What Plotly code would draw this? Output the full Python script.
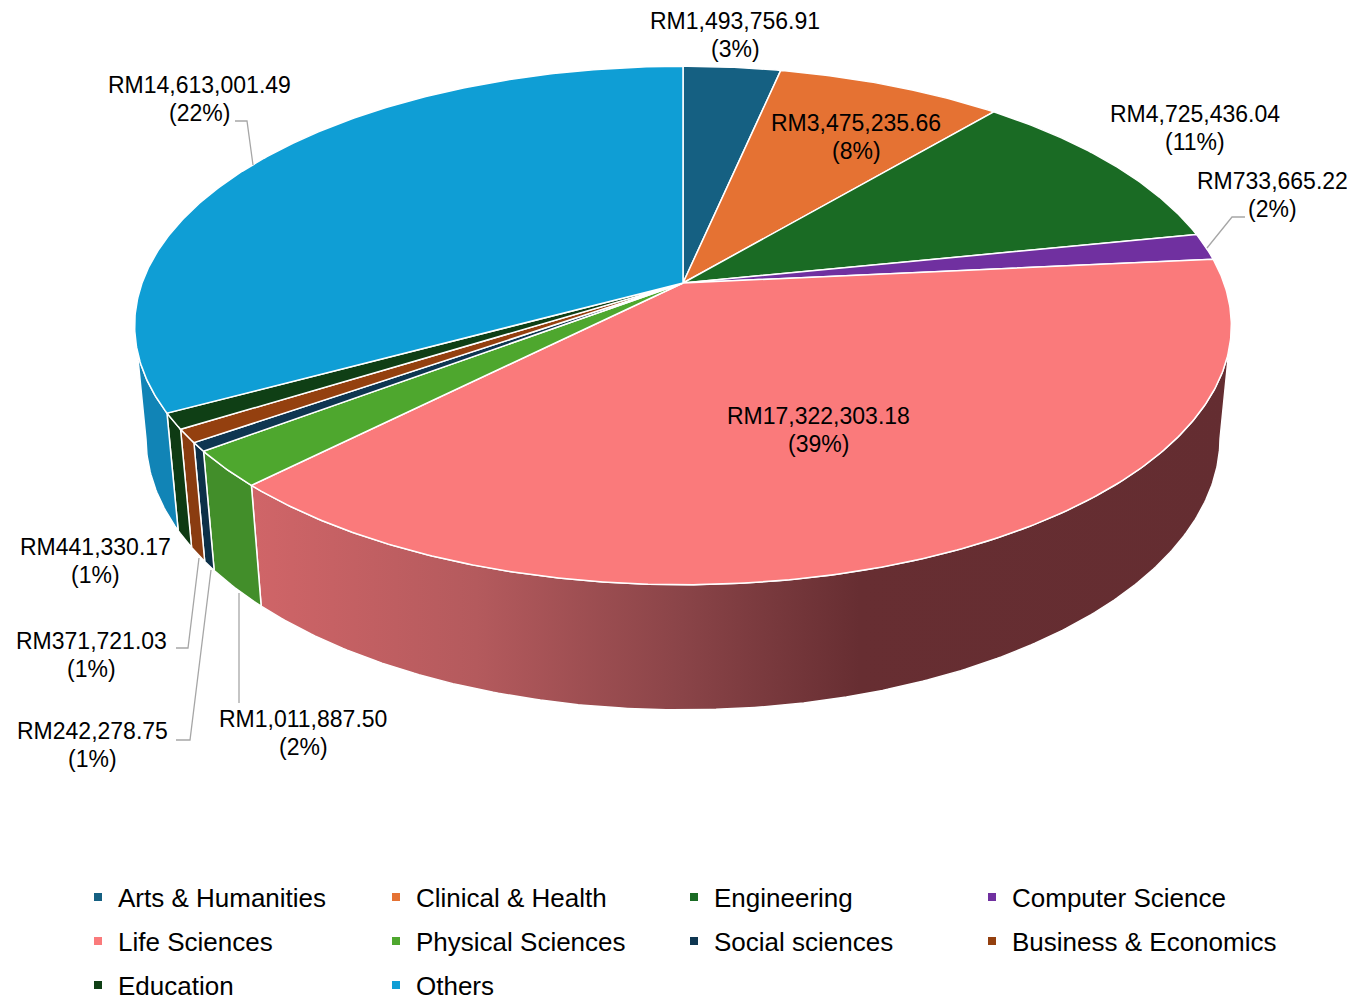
import numpy as np
import plotly.graph_objects as go

# ---------------- data ----------------
categories = ["Arts & Humanities", "Clinical & Health", "Engineering", "Computer Science",
              "Life Sciences", "Physical Sciences", "Social sciences", "Business & Economics",
              "Education", "Others"]
values = [1493756.91, 3475235.66, 4725436.04, 733665.22, 17322303.18,
          1011887.50, 242278.75, 371721.03, 441330.17, 14613001.49]
pct_labels = ["3%", "8%", "11%", "2%", "39%", "2%", "1%", "1%", "1%", "22%"]

# ---------------- styles ----------------
top_colors = ["#156082", "#E57233", "#1A6B24", "#7030A0", "#FA7A7B",
              "#4EA72E", "#0E3651", "#94400F", "#0F3F15", "#0F9ED5"]
side_colors = ["#12506D", "#C0602A", "#15591E", "#5E2886", "#B85A5C",
               "#428E2A", "#0C3048", "#8A3C10", "#0E3A13", "#1184B6"]
life_gradient = [[0, "#D06568"], [0.23, "#B45A5D"], [0.44, "#8A4448"],
                 [0.62, "#672E32"], [1, "#642D31"]]

# label layout (pixel positions of label centres) and leader lines
label_pos = [(735, 35), (856, 137), (1195, 128), (1272, 195), (818, 430),
             (303, 733), (92, 745), (91, 655), (95, 561), (199, 99)]
LINE_GAP = 28
leaders = {
    3: [(1245, 217), (1232, 217), (1207, 248)],
    5: [(239, 703), (239, 593)],
    6: [(176, 740), (190, 740), (211, 570)],
    7: [(176, 648), (188, 648), (199, 558)],
    9: [(235, 121), (247, 121), (253, 165)],
}
legend_cols = [78, 376, 674, 972]
legend_rows = [897, 941, 985]

W, H = 1355, 1001
OFF = 8  # default page body margin
FW, FH = W - OFF, H - OFF
FONT = "Liberation Sans, Arial, sans-serif"

# ---------------- 3D projection of a tilted disc ----------------
CX, CY = 683, 283
DIST = 5.4
PHI = np.radians(27.8)
FOC = 2921
THICK = 0.237


def proj(theta, w, r=1.0):
    X = r * np.sin(theta)
    V = r * np.cos(theta)
    Y = -THICK * w
    Z = -V
    depth = DIST - (Y * np.sin(PHI) + Z * np.cos(PHI))
    sx = FOC * X / depth
    sy = FOC * (Y * np.cos(PHI) - Z * np.sin(PHI)) / depth
    return CX + sx, CY - sy


vals = np.array(values, dtype=float)
frac = vals / vals.sum()
edges = np.concatenate([[0], np.cumsum(frac)]) * 2 * np.pi

th_sil = np.arccos(-np.cos(PHI) / DIST)
vis_a, vis_b = th_sil, 2 * np.pi - th_sil

fig = go.Figure()

# side walls
for i in range(len(values)):
    a, b = max(edges[i], vis_a), min(edges[i + 1], vis_b)
    if b <= a:
        continue
    n = max(4, int(np.degrees(b - a) * 2))
    th = np.linspace(a, b, n)
    xt, yt = proj(th, 0)
    xb, yb = proj(th[::-1], 1)
    xs = np.concatenate([xt, xb, xt[:1]])
    ys = np.concatenate([yt, yb, yt[:1]])
    kw = dict(fillcolor=side_colors[i])
    if categories[i] == "Life Sciences":
        kw = dict(fillgradient=dict(type="horizontal", colorscale=life_gradient))
    fig.add_trace(go.Scatter(x=xs, y=ys, mode="lines", fill="toself",
                             line=dict(color="white", width=1.5),
                             hoverinfo="skip", showlegend=False, **kw))

# top faces
for i in range(len(values)):
    a, b = edges[i], edges[i + 1]
    n = max(4, int(np.degrees(b - a) * 2))
    th = np.linspace(a, b, n)
    xt, yt = proj(th, 0)
    xs = np.concatenate([[CX], xt, [CX]])
    ys = np.concatenate([[CY], yt, [CY]])
    fig.add_trace(go.Scatter(x=xs, y=ys, mode="lines", fill="toself",
                             fillcolor=top_colors[i],
                             line=dict(color="white", width=1.5),
                             name=categories[i],
                             text=f"{categories[i]}: RM{values[i]:,.2f}",
                             hoverinfo="text", showlegend=False))

# leader lines
for i, pts in leaders.items():
    fig.add_trace(go.Scatter(x=[p[0] for p in pts], y=[p[1] for p in pts], mode="lines",
                             line=dict(color="#A6A6A6", width=1.3),
                             hoverinfo="skip", showlegend=False))

# data labels (value line + percentage line)
for i in range(len(values)):
    lx, ly = label_pos[i]
    for txt, dy in ((f"RM{values[i]:,.2f}", -LINE_GAP / 2), (f"({pct_labels[i]})", LINE_GAP / 2)):
        fig.add_annotation(x=lx, y=ly + dy, xref="x", yref="y", text=txt,
                           showarrow=False, borderpad=0,
                           font=dict(family=FONT, size=23, color="#000000"),
                           xanchor="center", yanchor="middle")

# legend entries (one legend per entry, laid out as a 4-column grid)
layout_legends = {}
for i, cat in enumerate(categories):
    key = "legend" if i == 0 else f"legend{i + 1}"
    fig.add_trace(go.Scatter(x=[None], y=[None], mode="markers", name=cat,
                             marker=dict(symbol="square", size=8, color=top_colors[i]),
                             legend=key, showlegend=True, hoverinfo="skip"))
    col, row = i % 4, i // 4
    layout_legends[key] = dict(
        x=(legend_cols[col] - OFF) / FW, y=1 - (legend_rows[row] - OFF) / FH,
        xanchor="left", yanchor="middle", orientation="h",
        bgcolor="rgba(0,0,0,0)", borderwidth=0,
        font=dict(family=FONT, size=26, color="#000000"))

fig.update_layout(
    width=FW, height=FH,
    margin=dict(l=0, r=0, t=0, b=0, autoexpand=False),
    paper_bgcolor="white", plot_bgcolor="white",
    xaxis=dict(range=[OFF, W], visible=False, fixedrange=True),
    yaxis=dict(range=[H, OFF], visible=False, fixedrange=True),
    font=dict(family=FONT),
    **layout_legends,
)

fig.write_html("out.html")
